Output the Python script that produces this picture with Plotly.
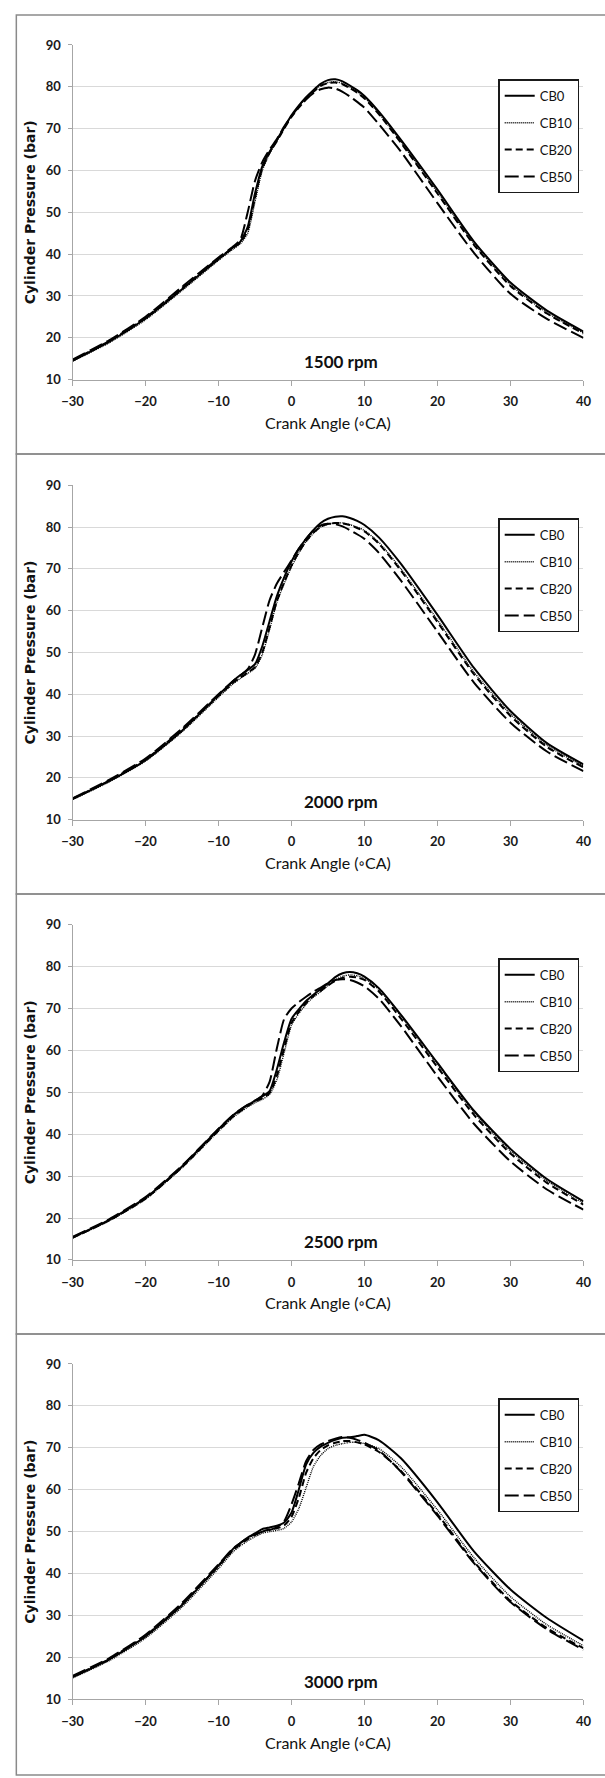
import plotly.graph_objects as go

# Crank angle grid (degrees CA) shared by every pressure trace
angle = [-30, -25, -20, -15, -10, -8, -7, -6, -5, -4, -3, -2, -1, 0, 1, 2, 3, 4, 5,
         6, 7, 8, 9, 10, 12, 15, 20, 25, 30, 35, 40]

series_names = ["CB0", "CB10", "CB20", "CB50"]
speeds = ["1500 rpm", "2000 rpm", "2500 rpm", "3000 rpm"]

# Cylinder pressure (bar) at 1500 rpm
p1500_cb0 = [14.5, 19.0, 24.6, 31.6, 38.8, 41.6, 43.0, 46.5, 54.5, 61.0, 64.5, 67.3, 70.3, 73.2, 75.5, 77.5,
             79.2, 80.7, 81.6, 81.8, 81.3, 80.3, 79.2, 77.8, 74.0, 67.3, 55.4, 43.0, 33.2, 26.5, 21.5]
p1500_cb10 = [14.4, 18.8, 24.3, 31.3, 38.5, 41.2, 42.5, 45.0, 52.5, 60.0, 64.0, 67.0, 70.0, 73.0, 75.3, 77.3,
              79.0, 80.3, 81.0, 81.2, 80.8, 79.9, 78.8, 77.4, 73.6, 66.8, 54.8, 42.5, 32.7, 26.0, 21.2]
p1500_cb20 = [14.6, 19.2, 24.8, 31.9, 39.0, 41.5, 42.8, 45.8, 53.5, 60.5, 64.2, 67.0, 70.0, 72.8, 75.0, 77.0,
              78.8, 80.2, 80.9, 81.0, 80.6, 79.7, 78.6, 77.2, 73.4, 66.6, 54.5, 42.2, 32.4, 25.8, 21.0]
p1500_cb50 = [14.8, 19.4, 25.0, 32.2, 39.2, 41.8, 43.5, 50.0, 57.5, 62.0, 65.0, 67.5, 70.5, 73.0, 75.2, 77.0,
              78.5, 79.4, 79.8, 79.6, 78.8, 77.7, 76.4, 75.0, 71.0, 64.5, 52.2, 40.3, 30.5, 24.5, 20.0]

# Cylinder pressure (bar) at 2000 rpm
p2000_cb0 = [14.9, 19.2, 24.2, 31.3, 39.8, 43.2, 44.6, 45.8, 47.2, 51.5, 57.5, 63.5, 68.0, 71.8, 74.8, 77.2,
             79.3, 81.0, 82.0, 82.5, 82.6, 82.2, 81.5, 80.5, 77.5, 71.2, 59.0, 46.3, 36.0, 28.3, 23.2]
p2000_cb10 = [14.8, 19.0, 24.0, 31.0, 39.3, 42.5, 43.8, 45.0, 46.2, 49.5, 55.5, 62.0, 66.5, 70.5, 73.8, 76.5,
              78.5, 80.0, 80.7, 81.0, 81.0, 80.6, 80.0, 79.2, 76.3, 70.0, 57.8, 45.3, 35.3, 27.8, 22.8]
p2000_cb20 = [15.0, 19.3, 24.4, 31.5, 39.6, 42.8, 44.0, 45.2, 46.5, 50.0, 56.0, 62.3, 66.8, 70.8, 74.0, 76.7,
              78.7, 80.1, 80.8, 81.0, 80.9, 80.5, 79.8, 79.0, 76.0, 69.6, 57.3, 44.8, 34.8, 27.4, 22.5]
p2000_cb50 = [15.1, 19.5, 24.6, 31.8, 40.0, 43.2, 44.5, 46.0, 49.5, 56.0, 62.5, 66.5, 69.3, 72.0, 74.8, 77.2,
              79.2, 80.4, 80.8, 80.7, 80.2, 79.3, 78.3, 77.2, 73.8, 67.2, 55.0, 42.8, 33.2, 26.3, 21.6]

# Cylinder pressure (bar) at 2500 rpm
p2500_cb0 = [15.4, 19.5, 24.8, 32.3, 41.2, 44.5, 45.8, 47.0, 48.0, 49.0, 50.3, 55.5, 62.0, 67.5, 69.8, 71.8,
             73.3, 74.6, 76.0, 77.5, 78.4, 78.7, 78.4, 77.6, 74.8, 68.5, 57.0, 45.6, 36.5, 29.3, 24.0]
p2500_cb10 = [15.2, 19.3, 24.5, 32.0, 40.7, 44.0, 45.3, 46.5, 47.5, 48.3, 49.5, 53.0, 59.5, 66.0, 68.8, 71.0,
              72.7, 74.0, 75.5, 76.8, 77.7, 78.0, 77.8, 77.2, 74.5, 68.2, 56.6, 45.2, 36.0, 28.9, 23.6]
p2500_cb20 = [15.3, 19.4, 24.6, 32.1, 40.9, 44.2, 45.5, 46.7, 47.8, 48.6, 49.8, 54.0, 60.5, 66.5, 69.2, 71.3,
              73.0, 74.2, 75.5, 76.6, 77.3, 77.6, 77.4, 76.8, 74.0, 67.6, 56.0, 44.6, 35.4, 28.4, 23.2]
p2500_cb50 = [15.5, 19.7, 25.0, 32.5, 41.3, 44.6, 45.9, 47.0, 48.0, 49.2, 52.5, 60.5, 67.5, 70.0, 71.5, 72.8,
              74.0, 75.0, 76.0, 76.8, 77.0, 76.8, 76.2, 75.3, 72.3, 65.8, 53.8, 42.5, 33.5, 26.8, 22.0]

# Cylinder pressure (bar) at 3000 rpm
p3000_cb0 = [15.3, 19.5, 25.0, 32.5, 41.9, 45.9, 47.3, 48.6, 49.6, 50.6, 51.0, 51.4, 52.2, 54.5, 60.0, 66.0,
             68.8, 70.3, 71.2, 71.9, 72.4, 72.5, 72.8, 73.1, 71.8, 67.5, 57.0, 45.3, 36.2, 29.4, 24.0]
p3000_cb10 = [15.1, 19.2, 24.6, 32.0, 41.2, 45.2, 46.6, 47.8, 48.8, 49.6, 50.0, 50.3, 50.8, 52.3, 55.5, 60.5,
              65.5, 68.2, 69.8, 70.6, 71.0, 71.3, 71.3, 71.0, 69.8, 65.5, 55.2, 43.8, 34.5, 27.8, 22.8]
p3000_cb20 = [15.4, 19.6, 25.2, 32.7, 41.8, 45.6, 47.0, 48.2, 49.2, 50.0, 50.5, 50.8, 51.5, 53.5, 58.0, 64.0,
              67.5, 69.5, 70.6, 71.2, 71.6, 71.6, 71.3, 70.8, 69.0, 64.5, 54.2, 42.8, 33.5, 27.0, 22.2]
p3000_cb50 = [15.6, 19.8, 25.4, 33.0, 42.2, 46.0, 47.3, 48.5, 49.4, 50.0, 50.4, 51.0, 52.5, 56.5, 61.5, 66.8,
              69.5, 70.8, 71.6, 72.2, 72.6, 72.4, 71.9, 71.2, 69.3, 64.3, 53.8, 42.5, 33.2, 26.7, 21.8]

x_ticks = [-30, -20, -10, 0, 10, 20, 30, 40]
y_ticks = [10, 20, 30, 40, 50, 60, 70, 80, 90]

panels = [
    [p1500_cb0, p1500_cb10, p1500_cb20, p1500_cb50],
    [p2000_cb0, p2000_cb10, p2000_cb20, p2000_cb50],
    [p2500_cb0, p2500_cb10, p2500_cb20, p2500_cb50],
    [p3000_cb0, p3000_cb10, p3000_cb20, p3000_cb50],
]

# ---- page geometry (pixels) ----
W, H = 605, 1778
panel_tops = [7, 450, 894, 1338]
plot_tops = [37.3, 481.7, 925.0, 1368.3]
plot_bottoms = [375.0, 819.0, 1263.3, 1706.7]
plot_left, plot_right = 63.5, 591.0

line_styles = [
    dict(color="#000000", width=2.0, dash="solid"),
    dict(color="#000000", width=1.4, dash="1px,1px"),
    dict(color="#000000", width=2.0, dash="7px,4px"),
    dict(color="#000000", width=2.0, dash="14px,5px"),
]

SANS = "Lato"
text_dark = "#111111"
tick_font = dict(family=SANS, size=13, color="#1a1a1a", weight="bold")

fig = go.Figure()
layout = dict(
    width=W, height=H,
    margin=dict(l=0, r=0, t=0, b=0),
    paper_bgcolor="white", plot_bgcolor="white",
    showlegend=True,
    shapes=[], annotations=[],
)

for i, (curves, speed) in enumerate(zip(panels, speeds)):
    n = i + 1
    sfx = "" if n == 1 else str(n)
    xa, ya = "x" + sfx, "y" + sfx
    legend_id = "legend" + sfx

    for name, vals, st in zip(series_names, curves, line_styles):
        fig.add_trace(go.Scatter(
            x=angle, y=vals, mode="lines", name=name,
            line=dict(color=st["color"], width=st["width"], dash=st["dash"],
                      shape="spline", smoothing=0.6),
            xaxis=xa, yaxis=ya, legend=legend_id,
            legendgroup=f"{speed}-{name}",
        ))

    y_dom = [1 - plot_bottoms[i] / H, 1 - plot_tops[i] / H]
    layout["xaxis" + sfx] = dict(
        domain=[plot_left / W, plot_right / W], anchor=ya,
        range=[-30, 40], tickvals=x_ticks, showgrid=False, zeroline=False,
        showline=True, linecolor="#a6a6a6", linewidth=1,
        ticks="outside", ticklen=5, tickcolor="#a6a6a6", tickwidth=1,
        tickfont=tick_font, ticklabelstandoff=5,
        title=dict(text="Crank Angle (◦CA)", standoff=9,
                   font=dict(family=SANS, size=16, color=text_dark)),
    )
    layout["yaxis" + sfx] = dict(
        domain=y_dom, anchor=xa,
        range=[10, 90], tickvals=y_ticks, showgrid=True, gridcolor="#d9d9d9", gridwidth=1,
        zeroline=False, showline=True, linecolor="#a6a6a6", linewidth=1,
        ticks="outside", ticklen=4, tickcolor="#a6a6a6", tickwidth=1,
        tickfont=tick_font, ticklabelstandoff=4,
        title=dict(text="Cylinder Pressure (bar)", standoff=6,
                   font=dict(family="DejaVu Sans", size=14, color=text_dark, weight="bold")),
    )

    # legend box for this panel
    legend_top = panel_tops[i] + 65.0
    layout[legend_id] = dict(
        x=503.0 / W, y=1 - legend_top / H, xanchor="left", yanchor="top",
        bgcolor="white", bordercolor="#1a1a1a", borderwidth=1.5,
        font=dict(family=SANS, size=13, color=text_dark),
        tracegroupgap=7, traceorder="grouped",
    )

    # engine speed label inside the plot
    layout["annotations"].append(dict(
        x=6.8, y=14.3, xref=xa, yref=ya, text=speed, showarrow=False,
        font=dict(family=SANS, size=17, color=text_dark, weight="bold"),
    ))

    # frame around each panel
    bottom = panel_tops[i + 1] if i < 3 else H + 5
    layout["shapes"].append(dict(
        type="rect", xref="paper", yref="paper",
        x0=5.5 / W, x1=(W + 10) / W,
        y0=1 - bottom / H, y1=1 - panel_tops[i] / H,
        line=dict(color="#8a8a8a", width=1.5), fillcolor="rgba(0,0,0,0)", layer="below",
    ))

fig.update_layout(**layout)
fig.write_html("out.html", config={"displayModeBar": False})
